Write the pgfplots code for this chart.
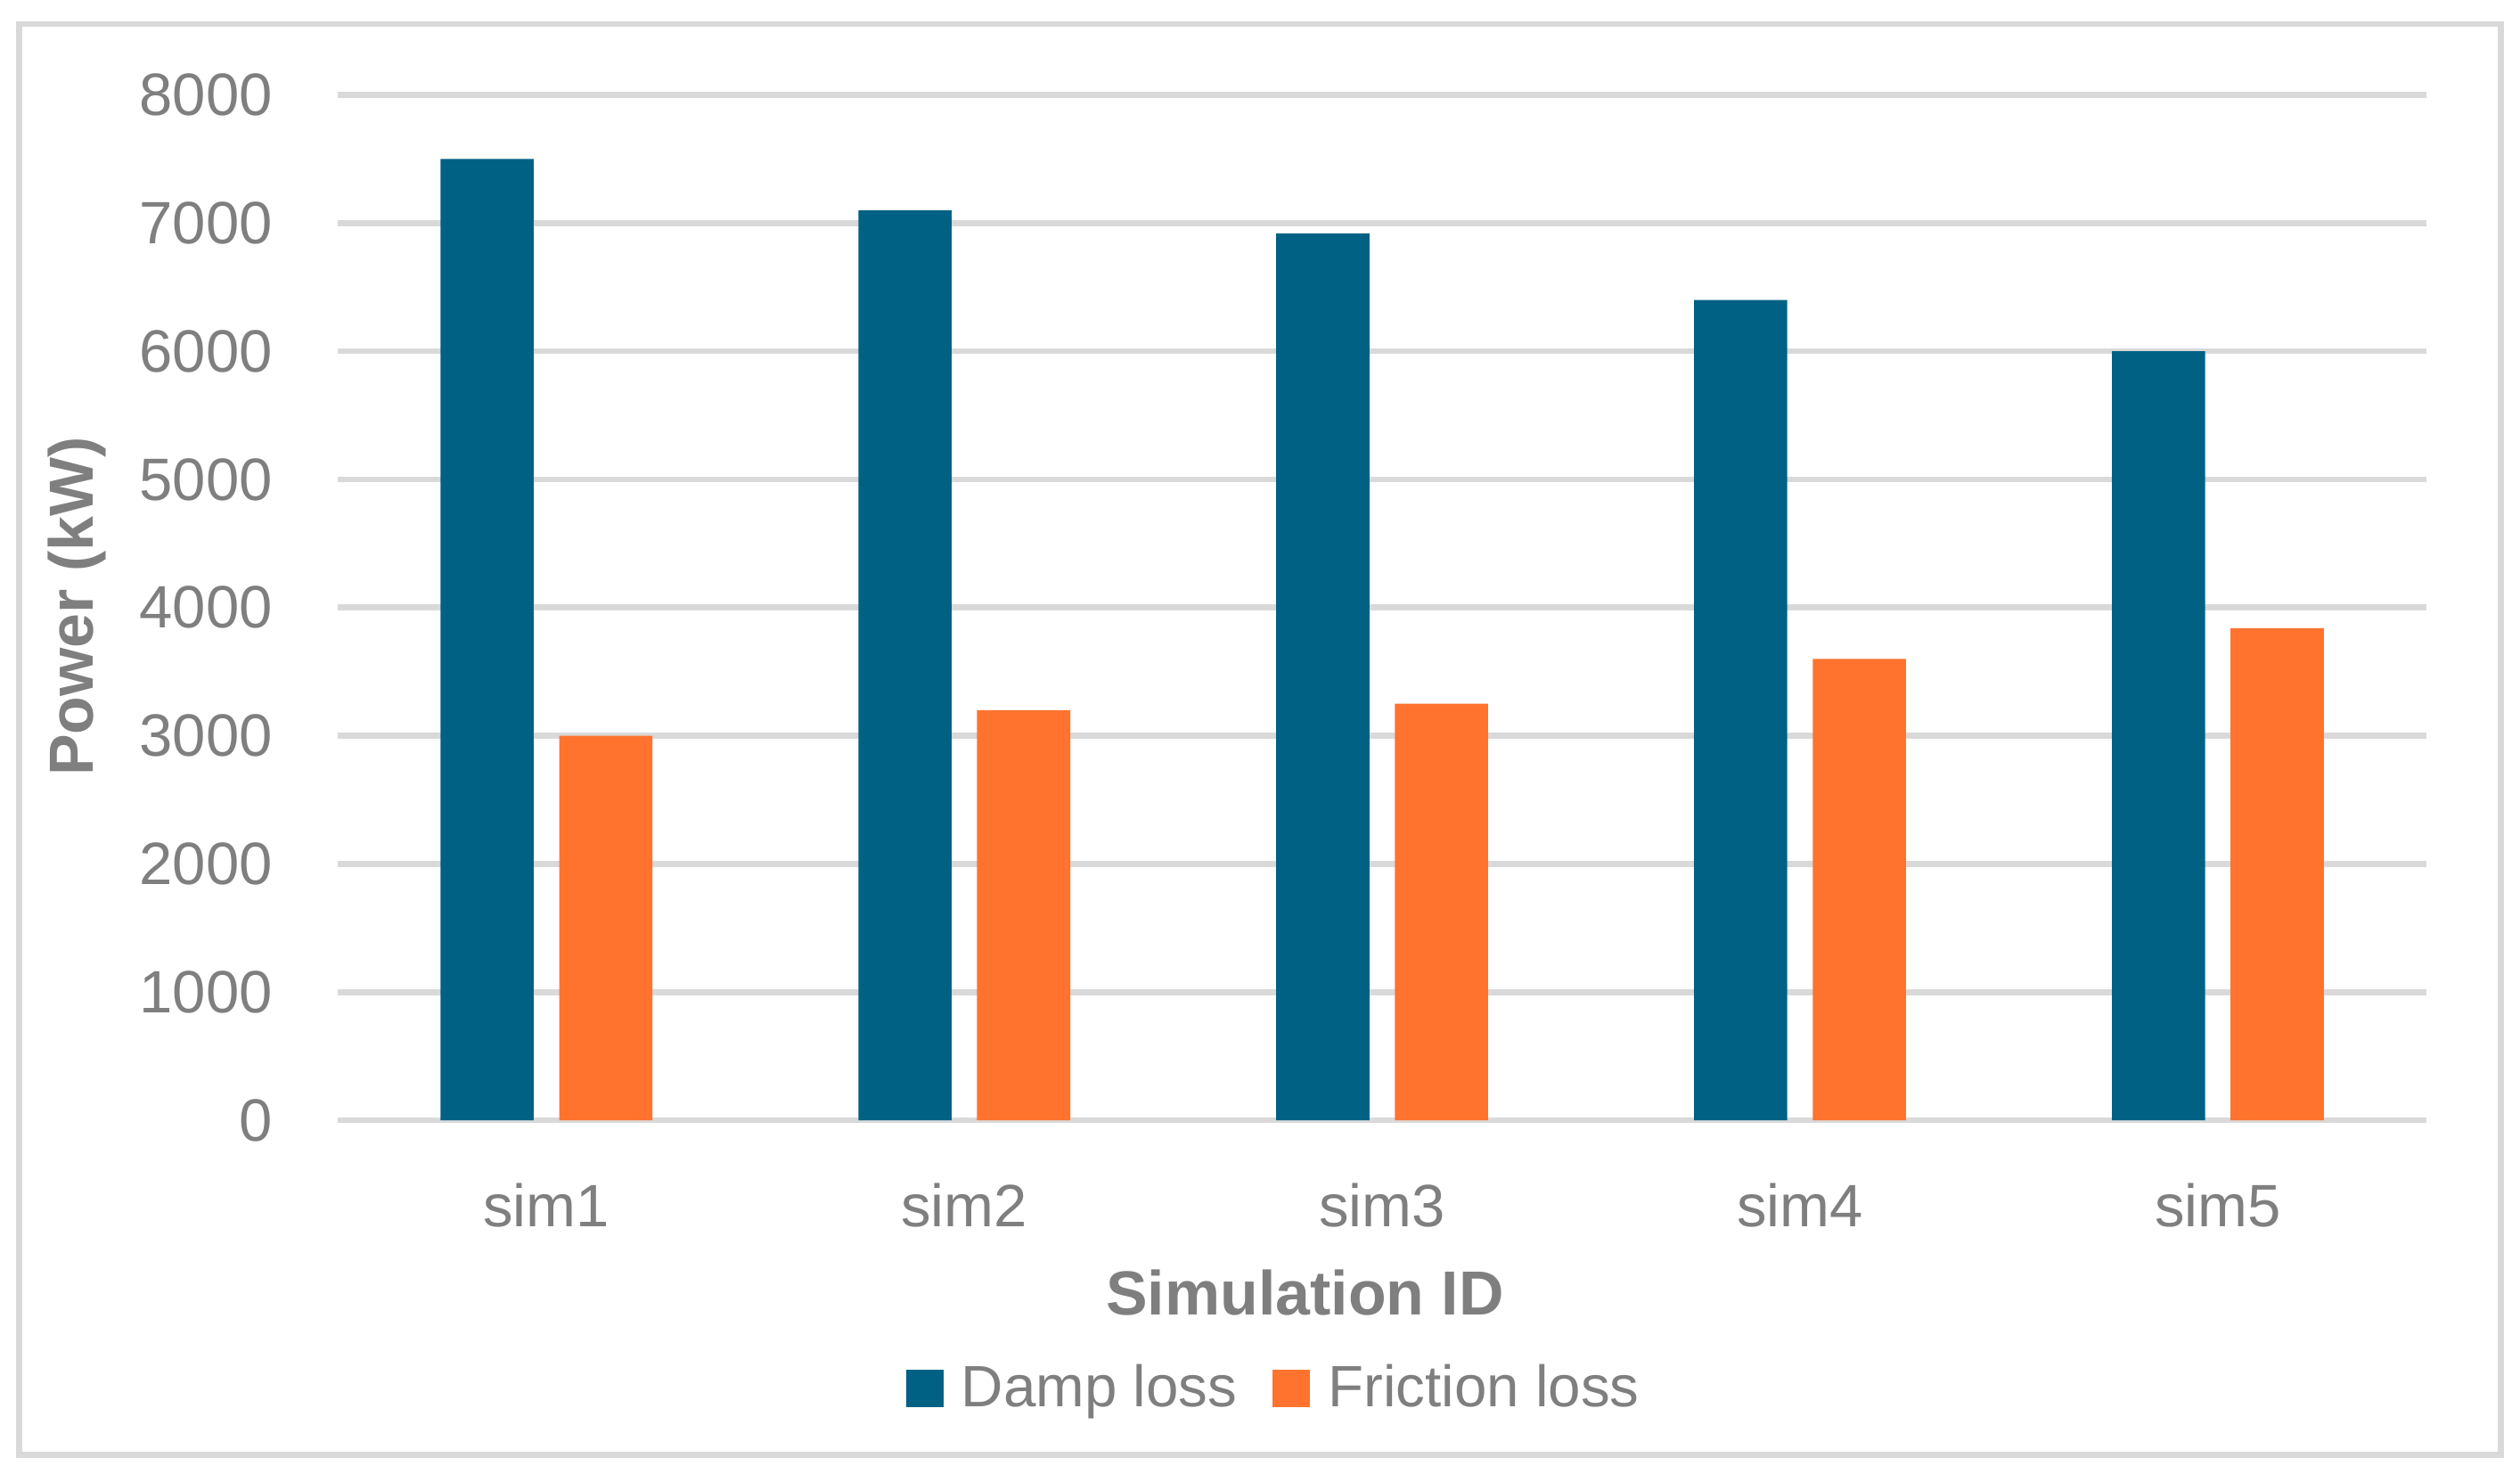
\documentclass[border=0pt]{standalone}
\usepackage{fontspec}
\setmainfont{Liberation Sans}
\usepackage{pgfplots}
\pgfplotsset{compat=1.18}
\definecolor{damp}{HTML}{006184}
\definecolor{fric}{HTML}{FF732E}
\definecolor{txt}{HTML}{7F7F7F}
\definecolor{grd}{HTML}{D9D9D9}
\begin{document}
\begin{tikzpicture}
\fill[white] (0,0) rectangle (705.6bp,412.65bp);
\draw[grd, line width=1.7bp] (5.4bp,5.4bp) rectangle (700.2bp,405.9bp);
\begin{axis}[
  at={(94.5bp,99bp)}, anchor=south west,
  scale only axis, width=585bp, height=287.1bp,
  xmin=-0.5, xmax=4.5, ymin=0, ymax=8000,
  ytick={0,1000,...,8000},
  xtick={0,1,2,3,4}, xticklabels={sim1,sim2,sim3,sim4,sim5},
  axis line style={draw=none},
  major tick length=0pt,
  ymajorgrids, grid style={grd, line width=1.7bp},
  scaled y ticks=false,
  /pgf/number format/.cd, 1000 sep={}, assume math mode=true, /pgfplots/.cd,
  ticklabel style={font=\fontsize{16.8}{19}\selectfont, text=txt},
  yticklabel style={anchor=east, inner sep=0pt, xshift=-18bp},
  xticklabel style={anchor=base, inner sep=0pt, yshift=-29.7bp},
  legend columns=2,
  legend style={at={(0.2718,-0.2612)}, anchor=west, draw=none, fill=none,
    inner sep=0pt, column sep=0pt,
    font=\fontsize{16.4}{19}\selectfont, text=txt,
    nodes={inner sep=0pt},
    /tikz/every odd column/.append style={column sep=5bp},
    /tikz/every even column/.append style={column sep=10bp}},
  legend image code/.code={\fill[#1] (0bp,-5.25bp) rectangle (10.5bp,5.25bp);},
]
\addplot[ybar, fill=damp, draw=none, bar width=0.223, bar shift=-0.142]
  coordinates {(0,7500) (1,7100) (2,6920) (3,6400) (4,6000)};
\addlegendentry{Damp loss}
\addplot[ybar, fill=fric, draw=none, bar width=0.223, bar shift=0.142]
  coordinates {(0,3000) (1,3200) (2,3250) (3,3600) (4,3840)};
\addlegendentry{Friction loss}
\end{axis}
\node[rotate=90, text=txt, font=\bfseries\fontsize{17.5}{20}\selectfont] at (21.6bp,242.8bp) {Power (kW)};
\node[anchor=base, text=txt, inner sep=0pt, font=\bfseries\fontsize{17.5}{20}\selectfont] at (365.4bp,44.6bp) {Simulation ID};
\end{tikzpicture}
\end{document}
